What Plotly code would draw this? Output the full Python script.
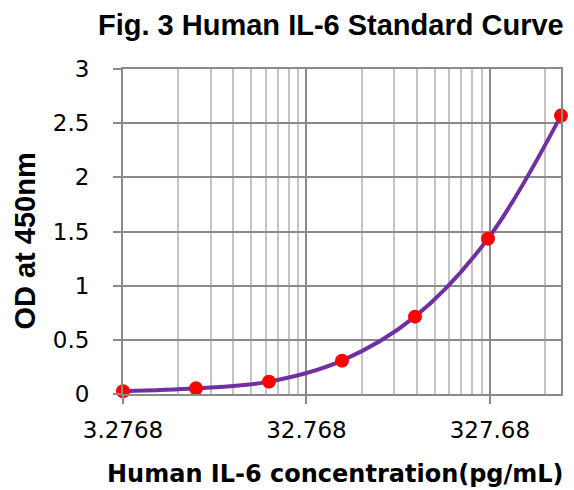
import math
import plotly.graph_objects as go

concentration = [3.2768, 8.192, 20.48, 51.2, 128, 320, 800]
od450 = [0.025, 0.052, 0.114, 0.308, 0.714, 1.434, 2.57]

x_tickvals = [3.2768, 32.768, 327.68]
x_ticktext = ["3.2768", "32.768", "327.68"]
decade_starts = [3.2768, 32.768, 327.68]
minor_vals = [d * m for d in decade_starts for m in range(2, 10) if d * m < 800]

fig = go.Figure()
fig.add_trace(go.Scatter(
    x=concentration, y=od450, mode="lines",
    line=dict(color="#7030A0", width=4, shape="spline", smoothing=1.0),
    hoverinfo="skip", showlegend=False,
))
fig.add_trace(go.Scatter(
    x=concentration, y=od450, mode="markers",
    marker=dict(color="#FF0000", size=14),
    cliponaxis=False, showlegend=False,
))

grid_major = "#8a8a8a"
grid_minor = "#c4c4c4"

fig.update_layout(
    width=574, height=490,
    margin=dict(l=123, r=11, t=69, b=96),
    paper_bgcolor="white", plot_bgcolor="white",
    showlegend=False,
    xaxis=dict(
        type="log",
        range=[math.log10(3.2768), math.log10(800)],
        tickmode="array", tickvals=x_tickvals, ticktext=x_ticktext,
        showgrid=True, gridcolor=grid_major, gridwidth=1.8,
        ticks="outside", ticklen=8, tickcolor=grid_major, tickwidth=1.8,
        ticklabelstandoff=6,
        tickfont=dict(family="DejaVu Sans", size=23, color="black"),
        showline=True, linecolor=grid_major, linewidth=2, mirror=True,
        minor=dict(tickmode="array", tickvals=minor_vals, showgrid=True,
                   gridcolor=grid_minor, gridwidth=1.5, ticks=""),
        zeroline=False,
    ),
    yaxis=dict(
        range=[0, 3], dtick=0.5, tick0=0,
        showgrid=True, gridcolor=grid_major, gridwidth=1.8,
        ticks="outside", ticklen=8, tickcolor=grid_major, tickwidth=1.8,
        ticklabelstandoff=19,
        tickfont=dict(family="DejaVu Sans", size=23, color="black"),
        showline=True, linecolor=grid_major, linewidth=2, mirror=True,
        zeroline=False,
    ),
    annotations=[
        dict(text="<b>Fig. 3 Human IL-6 Standard Curve</b>", xref="paper", yref="paper",
             x=1.012, y=1.135, xanchor="right", yanchor="middle", showarrow=False,
             font=dict(family="Liberation Sans", size=29, color="black")),
        dict(text="<b>Human IL-6 concentration(pg/mL)</b>", xref="paper", yref="paper",
             x=0.485, y=-0.246, xanchor="center", yanchor="middle", showarrow=False,
             font=dict(family="DejaVu Sans", size=24, color="black")),
        dict(text="<b>OD at 450nm</b>", xref="paper", yref="paper",
             x=-0.2237, y=0.469, xanchor="center", yanchor="middle", showarrow=False,
             textangle=-90,
             font=dict(family="Liberation Sans", size=29, color="black")),
    ],
)

fig.write_html("out.html", config={"displayModeBar": False},
               post_script="document.body.style.margin='0';")
